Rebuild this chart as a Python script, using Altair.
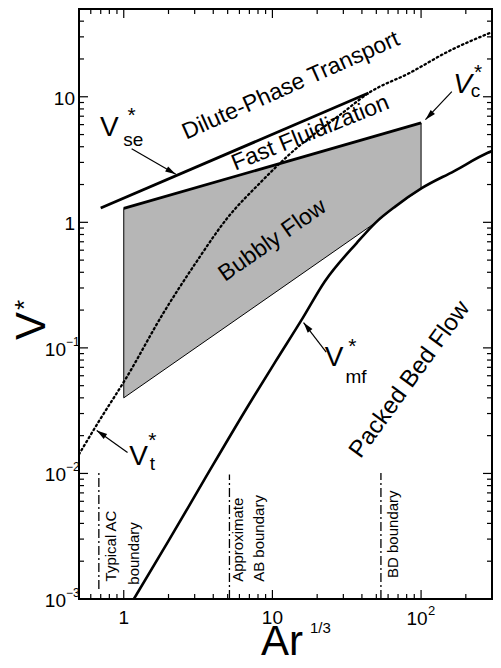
import altair as alt
import pandas as pd

# ---------------- data ----------------
# minimum fluidization velocity V*_mf
vmf_x = [1.17, 2.0, 3.5, 6.84, 10.5, 15.9, 22.5, 36.9, 49.7, 67.3, 101, 167, 281, 300]
vmf_y = [0.001, 0.0029, 0.009, 0.0343, 0.078, 0.171, 0.338, 0.684, 1.0, 1.34, 1.87, 2.56, 3.58, 3.7]
# terminal velocity V*_t (dotted)
vt_x = [0.5, 0.687, 1.03, 1.85, 3.03, 4.97, 8.29, 13.0, 29.9, 44.3, 84, 154, 283, 300]
vt_y = [0.0142, 0.0265, 0.0566, 0.19, 0.47, 1.08, 2.07, 3.47, 7.5, 10.7, 15.5, 23.1, 31.8, 32.7]
# V*_se line
vse_x = [0.7, 44.3]
vse_y = [1.3, 10.7]
# V*_c line
vc_x = [1.0, 100]
vc_y = [1.29, 6.2]
# bubbly-flow shaded region
bub_x = [1.0, 49.7, 67.3, 100]
bub_lo = [0.040, 1.0, 1.34, 1.85]
bub_hi = [1.29, 4.88, 5.41, 6.2]
# group boundaries (dash-dot)
bnd_x = [0.68, 5.14, 53.7]
bnd_lo = [0.0012, 0.001, 0.001]
bnd_hi = [0.0103, 0.0098, 0.0101]

# axis ticks
x_major = [1, 10, 100]
x_minor = [0.5, 0.6, 0.7, 0.8, 0.9, 2, 3, 4, 5, 6, 7, 8, 9,
           20, 30, 40, 50, 60, 70, 80, 90, 200, 300]
y_major = [0.001, 0.01, 0.1, 1, 10]
y_minor = [0.002, 0.003, 0.004, 0.005, 0.006, 0.007, 0.008, 0.009,
           0.02, 0.03, 0.04, 0.05, 0.06, 0.07, 0.08, 0.09,
           0.2, 0.3, 0.4, 0.5, 0.6, 0.7, 0.8, 0.9,
           2, 3, 4, 5, 6, 7, 8, 9, 20, 30, 40, 50]
ylab_plain = [10, 1]
ylab_plain_txt = ["10", "1"]
ylab_pow = [0.1, 0.01, 0.001]
ylab_pow_exp = ["\u22121", "\u22122", "\u22123"]

FONT = "Liberation Sans"
W, H = 413, 590

xs = alt.Scale(type="log", domain=[0.5, 300], nice=False)
ys = alt.Scale(type="log", domain=[0.001, 50], nice=False)


def X(f):
    return alt.X(f, type="quantitative", scale=xs, axis=None)


def Y(f):
    return alt.Y(f, type="quantitative", scale=ys, axis=None)


layers = []

# shaded bubbly region
bub = pd.DataFrame({"x": bub_x, "lo": bub_lo, "hi": bub_hi})
layers.append(alt.Chart(bub).mark_area(color="#b6b6b6", stroke="black", strokeWidth=1,
                                       opacity=1, fillOpacity=1)
              .encode(x=X("x"), y=Y("lo"), y2=alt.Y2("hi")))

# V_t dotted
vt = pd.DataFrame({"x": vt_x, "y": vt_y})
layers.append(alt.Chart(vt).mark_line(color="black", strokeWidth=2.3, strokeDash=[1.5, 3.2],
                                      strokeCap="round", clip=True, interpolate="monotone")
              .encode(x=X("x"), y=Y("y")))

# V_mf
vmf = pd.DataFrame({"x": vmf_x, "y": vmf_y})
layers.append(alt.Chart(vmf).mark_line(color="black", strokeWidth=2.6, clip=True,
                                       interpolate="monotone")
              .encode(x=X("x"), y=Y("y")))

# V_se
vse = pd.DataFrame({"x": vse_x, "y": vse_y})
layers.append(alt.Chart(vse).mark_line(color="black", strokeWidth=2.8)
              .encode(x=X("x"), y=Y("y")))

# V_c
vc = pd.DataFrame({"x": vc_x, "y": vc_y})
layers.append(alt.Chart(vc).mark_line(color="black", strokeWidth=2.8)
              .encode(x=X("x"), y=Y("y")))

# boundaries
bnd = pd.DataFrame({"x": bnd_x, "lo": bnd_lo, "hi": bnd_hi})
layers.append(alt.Chart(bnd).mark_rule(color="black", strokeWidth=1.3, strokeDash=[9, 3, 2, 3])
              .encode(x=X("x"), y=Y("lo"), y2=alt.Y2("hi")))


def label(text, x, y, size, angle=0, align="center", baseline="middle", style="normal"):
    d = pd.DataFrame({"x": [x], "y": [y], "t": [text]})
    props = dict(fontSize=size, align=align, baseline=baseline, font=FONT,
                 color="black", fontStyle=style)
    if angle:
        props["angle"] = angle
    return alt.Chart(d).mark_text(**props).encode(x=X("x"), y=Y("y"), text="t:N")


# region labels
layers.append(label("Dilute-Phase Transport", 13.3, 12.3, 23, angle=336))
layers.append(label("Fast Fluidization", 18.0, 5.15, 23, angle=338))
layers.append(label("Bubbly Flow", 10.0, 0.72, 23, angle=325))
layers.append(label("Packed Bed Flow", 84, 0.056, 24, angle=306))

# boundary labels
layers.append(label("Typical AC", 0.815, 0.00138, 15, angle=270, align="left"))
layers.append(label("boundary", 1.18, 0.0013, 15, angle=270, align="left"))
layers.append(label("Approximate", 5.9, 0.00137, 15, angle=270, align="left"))
layers.append(label("AB boundary", 8.17, 0.00137, 15, angle=270, align="left"))
layers.append(label("BD boundary", 64.7, 0.00147, 15, angle=270, align="left"))

# curve labels
layers.append(label("V", 0.80, 5.6, 28))
layers.append(label("*", 1.13, 7.0, 21))
layers.append(label("se", 1.16, 4.5, 19))

layers.append(label("V", 190, 12.3, 28, style="italic"))
layers.append(label("*", 242, 15.6, 21))
layers.append(label("c", 232, 11.2, 19))

layers.append(label("V", 1.26, 0.0135, 28))
layers.append(label("*", 1.56, 0.0180, 21))
layers.append(label("t", 1.56, 0.0118, 19))

layers.append(label("V", 26, 0.083, 28))
layers.append(label("*", 34.5, 0.102, 21))
layers.append(label("mf", 36.5, 0.0585, 19))

# arrows
ARROW = "M0,0L-0.28,1L0.28,1Z"


def arrow(x1, y1, x2, y2, ang):
    d = pd.DataFrame({"x": [x1], "y": [y1], "x2": [x2], "y2": [y2]})
    base = alt.Chart(d)
    r = base.mark_rule(color="black", strokeWidth=1.2).encode(
        x=X("x"), y=Y("y"), x2=alt.X2("x2"), y2=alt.Y2("y2"))
    p = base.mark_point(shape=ARROW, filled=True, color="black", size=450, angle=ang,
                        opacity=1, strokeWidth=0).encode(x=X("x2"), y=Y("y2"))
    return [r, p]


layers += arrow(1.13, 3.86, 2.24, 2.41, 120)
layers += arrow(161, 11.0, 107, 6.57, 224)
layers += arrow(1.06, 0.0147, 0.658, 0.022, 305)
layers += arrow(23, 0.0927, 16.2, 0.159, 322)


# inward ticks on all four sides
def yticks(vals, length):
    d = pd.DataFrame({"v": vals})
    b = alt.Chart(d)
    return [b.mark_rule(color="black", strokeWidth=1.2).encode(
                y=Y("v"), x=alt.value(0), x2=alt.value(length)),
            b.mark_rule(color="black", strokeWidth=1.2).encode(
                y=Y("v"), x=alt.value(W), x2=alt.value(W - length))]


def xticks(vals, length):
    d = pd.DataFrame({"v": vals})
    b = alt.Chart(d)
    return [b.mark_rule(color="black", strokeWidth=1.2).encode(
                x=X("v"), y=alt.value(H), y2=alt.value(H - length)),
            b.mark_rule(color="black", strokeWidth=1.2).encode(
                x=X("v"), y=alt.value(0), y2=alt.value(length))]


layers += yticks(y_major, 9) + yticks(y_minor, 5)
layers += xticks(x_major, 9) + xticks(x_minor, 5)

# y tick labels
d = pd.DataFrame({"v": ylab_plain, "t": ylab_plain_txt})
layers.append(alt.Chart(d).mark_text(align="right", baseline="middle", fontSize=19, font=FONT,
                                     color="black", dy=2)
              .encode(y=Y("v"), x=alt.value(-4), text="t:N"))
d = pd.DataFrame({"v": ylab_pow, "t": ["10"] * 3, "e": ylab_pow_exp})
layers.append(alt.Chart(d).mark_text(align="right", baseline="middle", fontSize=19, font=FONT,
                                     color="black", dy=2)
              .encode(y=Y("v"), x=alt.value(-13), text="t:N"))
layers.append(alt.Chart(d).mark_text(align="left", baseline="middle", fontSize=12, font=FONT,
                                     color="black", dy=-6)
              .encode(y=Y("v"), x=alt.value(-13), text="e:N"))

# x tick labels
d = pd.DataFrame({"v": [1, 10], "t": ["1", "10"]})
layers.append(alt.Chart(d).mark_text(align="center", baseline="middle", fontSize=19, font=FONT,
                                     color="black")
              .encode(x=X("v"), y=alt.value(H + 19), text="t:N"))
d = pd.DataFrame({"v": [100], "t": ["10"], "e": ["2"]})
layers.append(alt.Chart(d).mark_text(align="center", baseline="middle", fontSize=19, font=FONT,
                                     color="black", dx=-4)
              .encode(x=X("v"), y=alt.value(H + 20), text="t:N"))
layers.append(alt.Chart(d).mark_text(align="left", baseline="middle", fontSize=13, font=FONT,
                                     color="black", dx=7)
              .encode(x=X("v"), y=alt.value(H + 12), text="e:N"))

# axis titles
one = pd.DataFrame({"t": ["V"]})
layers.append(alt.Chart(one).mark_text(fontSize=42, font=FONT, color="black", angle=270,
                                       align="center", baseline="middle")
              .encode(x=alt.value(-47), y=alt.value(317), text=alt.value("V")))
layers.append(alt.Chart(one).mark_text(fontSize=26, font=FONT, color="black", angle=270,
                                       align="center", baseline="middle")
              .encode(x=alt.value(-54), y=alt.value(296), text=alt.value("*")))
layers.append(alt.Chart(one).mark_text(fontSize=42, font=FONT, color="black",
                                       align="center", baseline="alphabetic")
              .encode(x=alt.value(203), y=alt.value(646), text=alt.value("Ar")))
layers.append(alt.Chart(one).mark_text(fontSize=15, font=FONT, color="black",
                                       align="left", baseline="middle")
              .encode(x=alt.value(231), y=alt.value(619), text=alt.value("1/3")))

chart = alt.layer(*layers).properties(
    width=W, height=H,
    autosize=alt.AutoSizeParams(type="none"),
    padding={"left": 71, "top": 1, "right": 1, "bottom": 61},
).configure_view(stroke="black", strokeWidth=2)

chart.save("out.html", embed_options={"renderer": "svg", "actions": False})
